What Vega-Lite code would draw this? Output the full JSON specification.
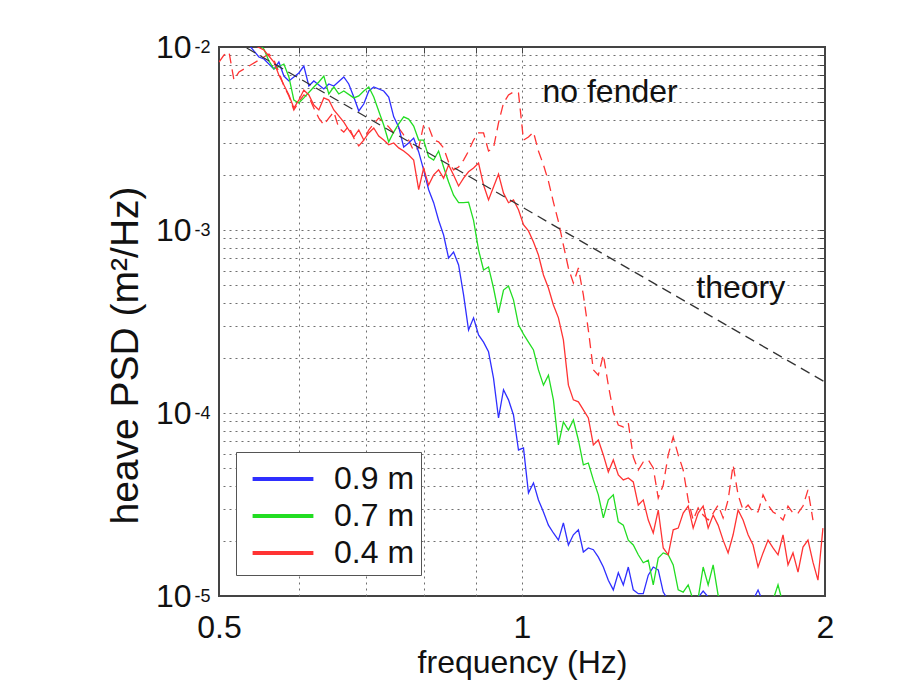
{
  "$schema": "https://vega.github.io/schema/vega-lite/v6.json",
  "width": 606,
  "height": 549,
  "autosize": {"type": "none"},
  "padding": {"left": 219, "top": 47, "right": 84, "bottom": 102},
  "background": "white",
  "config": {
    "font": "Liberation Sans",
    "view": {"stroke": "#444444", "strokeWidth": 2},
    "axis": {"labelColor": "#111111", "titleColor": "#111111", "labelFont": "Liberation Sans", "titleFont": "Liberation Sans", "titleFontWeight": "normal"}
  },
  "datasets": {
    "curves": [
      {"f":0.5355,"p":1.026e-2,"s":"0.9 m"},{"f":0.5478,"p":8.82e-3,"s":"0.9 m"},{"f":0.5541,"p":8.60e-3,"s":"0.9 m"},{"f":0.5669,"p":7.58e-3,"s":"0.9 m"},{"f":0.5734,"p":8.28e-3,"s":"0.9 m"},{"f":0.5800,"p":6.94e-3,"s":"0.9 m"},{"f":0.5867,"p":6.52e-3,"s":"0.9 m"},{"f":0.6002,"p":7.21e-3,"s":"0.9 m"},{"f":0.6071,"p":7.87e-3,"s":"0.9 m"},{"f":0.6141,"p":6.12e-3,"s":"0.9 m"},{"f":0.6211,"p":6.52e-3,"s":"0.9 m"},{"f":0.6355,"p":5.90e-3,"s":"0.9 m"},{"f":0.6428,"p":6.28e-3,"s":"0.9 m"},{"f":0.6502,"p":6.12e-3,"s":"0.9 m"},{"f":0.6652,"p":6.86e-3,"s":"0.9 m"},{"f":0.6728,"p":6.28e-3,"s":"0.9 m"},{"f":0.6806,"p":5.33e-3,"s":"0.9 m"},{"f":0.6884,"p":4.47e-3,"s":"0.9 m"},{"f":0.6963,"p":4.88e-3,"s":"0.9 m"},{"f":0.7043,"p":5.75e-3,"s":"0.9 m"},{"f":0.7124,"p":6.05e-3,"s":"0.9 m"},{"f":0.7288,"p":5.75e-3,"s":"0.9 m"},{"f":0.7372,"p":5.33e-3,"s":"0.9 m"},{"f":0.7457,"p":4.15e-3,"s":"0.9 m"},{"f":0.7542,"p":3.66e-3,"s":"0.9 m"},{"f":0.7629,"p":2.84e-3,"s":"0.9 m"},{"f":0.7716,"p":2.99e-3,"s":"0.9 m"},{"f":0.7805,"p":3.18e-3,"s":"0.9 m"},{"f":0.7895,"p":2.67e-3,"s":"0.9 m"},{"f":0.7985,"p":2.13e-3,"s":"0.9 m"},{"f":0.8077,"p":1.66e-3,"s":"0.9 m"},{"f":0.8170,"p":1.41e-3,"s":"0.9 m"},{"f":0.8263,"p":1.13e-3,"s":"0.9 m"},{"f":0.8358,"p":9.39e-4,"s":"0.9 m"},{"f":0.8454,"p":7.03e-4,"s":"0.9 m"},{"f":0.8551,"p":7.58e-4,"s":"0.9 m"},{"f":0.8650,"p":6.44e-4,"s":"0.9 m"},{"f":0.8749,"p":4.42e-4,"s":"0.9 m"},{"f":0.8849,"p":2.84e-4,"s":"0.9 m"},{"f":0.8951,"p":3.31e-4,"s":"0.9 m"},{"f":0.9054,"p":2.67e-4,"s":"0.9 m"},{"f":0.9158,"p":2.44e-4,"s":"0.9 m"},{"f":0.9263,"p":2.16e-4,"s":"0.9 m"},{"f":0.9369,"p":1.55e-4,"s":"0.9 m"},{"f":0.9477,"p":9.39e-5,"s":"0.9 m"},{"f":0.9586,"p":1.34e-4,"s":"0.9 m"},{"f":0.9696,"p":1.18e-4,"s":"0.9 m"},{"f":0.9807,"p":9.75e-5,"s":"0.9 m"},{"f":0.9920,"p":6.28e-5,"s":"0.9 m"},{"f":1.0034,"p":6.44e-5,"s":"0.9 m"},{"f":1.0149,"p":3.66e-5,"s":"0.9 m"},{"f":1.0266,"p":4.15e-5,"s":"0.9 m"},{"f":1.0383,"p":3.35e-5,"s":"0.9 m"},{"f":1.0503,"p":2.88e-5,"s":"0.9 m"},{"f":1.0623,"p":2.44e-5,"s":"0.9 m"},{"f":1.0745,"p":2.21e-5,"s":"0.9 m"},{"f":1.0869,"p":2.02e-5,"s":"0.9 m"},{"f":1.0993,"p":2.51e-5,"s":"0.9 m"},{"f":1.1120,"p":1.90e-5,"s":"0.9 m"},{"f":1.1247,"p":2.16e-5,"s":"0.9 m"},{"f":1.1377,"p":2.30e-5,"s":"0.9 m"},{"f":1.1507,"p":1.74e-5,"s":"0.9 m"},{"f":1.1639,"p":1.83e-5,"s":"0.9 m"},{"f":1.1773,"p":1.79e-5,"s":"0.9 m"},{"f":1.1908,"p":1.63e-5,"s":"0.9 m"},{"f":1.2045,"p":1.44e-5,"s":"0.9 m"},{"f":1.2183,"p":1.22e-5,"s":"0.9 m"},{"f":1.2323,"p":1.08e-5,"s":"0.9 m"},{"f":1.2465,"p":1.34e-5,"s":"0.9 m"},{"f":1.2608,"p":1.15e-5,"s":"0.9 m"},{"f":1.2753,"p":1.44e-5,"s":"0.9 m"},{"f":1.2899,"p":1.08e-5,"s":"0.9 m"},{"f":1.3047,"p":1.03e-5,"s":"0.9 m"},{"f":1.3197,"p":1.03e-5,"s":"0.9 m"},{"f":1.3349,"p":1.30e-5,"s":"0.9 m"},{"f":1.3502,"p":1.44e-5,"s":"0.9 m"},{"f":1.3657,"p":1.39e-5,"s":"0.9 m"},{"f":1.3814,"p":1.05e-5,"s":"0.9 m"},{"f":1.3972,"p":9.51e-6,"s":"0.9 m"},{"f":1.4133,"p":8.93e-6,"s":"0.9 m"},{"f":1.4459,"p":9.51e-6,"s":"0.9 m"},{"f":1.4793,"p":9.04e-6,"s":"0.9 m"},{"f":1.5135,"p":1.065e-5,"s":"0.9 m"},{"f":1.5485,"p":9.16e-6,"s":"0.9 m"},{"f":1.5842,"p":8.82e-6,"s":"0.9 m"},{"f":1.6208,"p":9.16e-6,"s":"0.9 m"},{"f":1.6582,"p":8.93e-6,"s":"0.9 m"},{"f":1.6966,"p":9.51e-6,"s":"0.9 m"},{"f":1.7160,"p":1.078e-5,"s":"0.9 m"},{"f":1.7357,"p":9.27e-6,"s":"0.9 m"},{"f":1.7758,"p":8.93e-6,"s":"0.9 m"},{"f":1.8588,"p":8.82e-6,"s":"0.9 m"},{"f":1.9906,"p":8.82e-6,"s":"0.9 m"},
      {"f":0.5478,"p":1.038e-2,"s":"0.7 m"},{"f":0.5541,"p":9.75e-3,"s":"0.7 m"},{"f":0.5605,"p":8.39e-3,"s":"0.7 m"},{"f":0.5669,"p":7.58e-3,"s":"0.7 m"},{"f":0.5800,"p":8.07e-3,"s":"0.7 m"},{"f":0.5867,"p":6.86e-3,"s":"0.7 m"},{"f":0.5934,"p":5.13e-3,"s":"0.7 m"},{"f":0.6002,"p":4.94e-3,"s":"0.7 m"},{"f":0.6071,"p":5.27e-3,"s":"0.7 m"},{"f":0.6211,"p":6.05e-3,"s":"0.7 m"},{"f":0.6283,"p":6.44e-3,"s":"0.7 m"},{"f":0.6355,"p":6.94e-3,"s":"0.7 m"},{"f":0.6428,"p":5.54e-3,"s":"0.7 m"},{"f":0.6502,"p":6.05e-3,"s":"0.7 m"},{"f":0.6576,"p":5.54e-3,"s":"0.7 m"},{"f":0.6652,"p":5.75e-3,"s":"0.7 m"},{"f":0.6806,"p":5.27e-3,"s":"0.7 m"},{"f":0.6884,"p":5.40e-3,"s":"0.7 m"},{"f":0.6963,"p":5.75e-3,"s":"0.7 m"},{"f":0.7043,"p":6.05e-3,"s":"0.7 m"},{"f":0.7124,"p":5.33e-3,"s":"0.7 m"},{"f":0.7205,"p":4.47e-3,"s":"0.7 m"},{"f":0.7288,"p":3.75e-3,"s":"0.7 m"},{"f":0.7372,"p":3.03e-3,"s":"0.7 m"},{"f":0.7457,"p":3.43e-3,"s":"0.7 m"},{"f":0.7542,"p":3.80e-3,"s":"0.7 m"},{"f":0.7629,"p":4.15e-3,"s":"0.7 m"},{"f":0.7716,"p":4.04e-3,"s":"0.7 m"},{"f":0.7805,"p":3.70e-3,"s":"0.7 m"},{"f":0.7895,"p":3.10e-3,"s":"0.7 m"},{"f":0.7985,"p":3.10e-3,"s":"0.7 m"},{"f":0.8077,"p":2.51e-3,"s":"0.7 m"},{"f":0.8170,"p":2.41e-3,"s":"0.7 m"},{"f":0.8263,"p":2.70e-3,"s":"0.7 m"},{"f":0.8358,"p":2.21e-3,"s":"0.7 m"},{"f":0.8454,"p":1.83e-3,"s":"0.7 m"},{"f":0.8551,"p":1.55e-3,"s":"0.7 m"},{"f":0.8650,"p":1.41e-3,"s":"0.7 m"},{"f":0.8749,"p":1.41e-3,"s":"0.7 m"},{"f":0.8849,"p":1.42e-3,"s":"0.7 m"},{"f":0.8951,"p":1.13e-3,"s":"0.7 m"},{"f":0.9054,"p":7.78e-4,"s":"0.7 m"},{"f":0.9158,"p":6.05e-4,"s":"0.7 m"},{"f":0.9263,"p":6.28e-4,"s":"0.7 m"},{"f":0.9369,"p":4.82e-4,"s":"0.7 m"},{"f":0.9477,"p":3.52e-4,"s":"0.7 m"},{"f":0.9586,"p":4.70e-4,"s":"0.7 m"},{"f":0.9696,"p":4.94e-4,"s":"0.7 m"},{"f":0.9807,"p":4.15e-4,"s":"0.7 m"},{"f":0.9920,"p":3.03e-4,"s":"0.7 m"},{"f":1.0034,"p":2.70e-4,"s":"0.7 m"},{"f":1.0149,"p":2.44e-4,"s":"0.7 m"},{"f":1.0266,"p":2.21e-4,"s":"0.7 m"},{"f":1.0383,"p":1.72e-4,"s":"0.7 m"},{"f":1.0503,"p":1.42e-4,"s":"0.7 m"},{"f":1.0623,"p":1.61e-4,"s":"0.7 m"},{"f":1.0745,"p":1.18e-4,"s":"0.7 m"},{"f":1.0869,"p":6.69e-5,"s":"0.7 m"},{"f":1.0993,"p":8.93e-5,"s":"0.7 m"},{"f":1.1120,"p":8.07e-5,"s":"0.7 m"},{"f":1.1247,"p":9.16e-5,"s":"0.7 m"},{"f":1.1377,"p":7.12e-5,"s":"0.7 m"},{"f":1.1507,"p":5.20e-5,"s":"0.7 m"},{"f":1.1639,"p":5.33e-5,"s":"0.7 m"},{"f":1.1773,"p":4.31e-5,"s":"0.7 m"},{"f":1.1908,"p":3.57e-5,"s":"0.7 m"},{"f":1.2045,"p":2.67e-5,"s":"0.7 m"},{"f":1.2183,"p":3.35e-5,"s":"0.7 m"},{"f":1.2323,"p":3.57e-5,"s":"0.7 m"},{"f":1.2465,"p":2.54e-5,"s":"0.7 m"},{"f":1.2608,"p":2.44e-5,"s":"0.7 m"},{"f":1.2753,"p":2.02e-5,"s":"0.7 m"},{"f":1.2899,"p":1.90e-5,"s":"0.7 m"},{"f":1.3047,"p":1.68e-5,"s":"0.7 m"},{"f":1.3197,"p":1.52e-5,"s":"0.7 m"},{"f":1.3349,"p":1.57e-5,"s":"0.7 m"},{"f":1.3502,"p":1.15e-5,"s":"0.7 m"},{"f":1.3657,"p":1.61e-5,"s":"0.7 m"},{"f":1.3814,"p":1.72e-5,"s":"0.7 m"},{"f":1.3972,"p":1.68e-5,"s":"0.7 m"},{"f":1.4133,"p":1.48e-5,"s":"0.7 m"},{"f":1.4295,"p":1.08e-5,"s":"0.7 m"},{"f":1.4459,"p":1.05e-5,"s":"0.7 m"},{"f":1.4625,"p":1.15e-5,"s":"0.7 m"},{"f":1.4793,"p":9.51e-6,"s":"0.7 m"},{"f":1.4963,"p":9.75e-6,"s":"0.7 m"},{"f":1.5135,"p":1.44e-5,"s":"0.7 m"},{"f":1.5309,"p":1.15e-5,"s":"0.7 m"},{"f":1.5485,"p":1.48e-5,"s":"0.7 m"},{"f":1.5662,"p":1.01e-5,"s":"0.7 m"},{"f":1.5842,"p":9.27e-6,"s":"0.7 m"},{"f":1.6208,"p":8.93e-6,"s":"0.7 m"},{"f":1.6773,"p":8.82e-6,"s":"0.7 m"},{"f":1.7758,"p":9.51e-6,"s":"0.7 m"},{"f":1.7962,"p":1.15e-5,"s":"0.7 m"},{"f":1.8169,"p":9.04e-6,"s":"0.7 m"},{"f":1.9906,"p":8.82e-6,"s":"0.7 m"},
      {"f":0.5294,"p":1.065e-2,"s":"0.4 m"},{"f":0.5416,"p":1.026e-2,"s":"0.4 m"},{"f":0.5541,"p":9.63e-3,"s":"0.4 m"},{"f":0.5669,"p":8.28e-3,"s":"0.4 m"},{"f":0.5734,"p":7.03e-3,"s":"0.4 m"},{"f":0.5800,"p":6.20e-3,"s":"0.4 m"},{"f":0.5867,"p":5.47e-3,"s":"0.4 m"},{"f":0.5934,"p":4.64e-3,"s":"0.4 m"},{"f":0.6002,"p":5.13e-3,"s":"0.4 m"},{"f":0.6071,"p":5.82e-3,"s":"0.4 m"},{"f":0.6141,"p":5.47e-3,"s":"0.4 m"},{"f":0.6211,"p":4.82e-3,"s":"0.4 m"},{"f":0.6283,"p":4.53e-3,"s":"0.4 m"},{"f":0.6355,"p":5.27e-3,"s":"0.4 m"},{"f":0.6428,"p":5.13e-3,"s":"0.4 m"},{"f":0.6502,"p":4.53e-3,"s":"0.4 m"},{"f":0.6576,"p":4.20e-3,"s":"0.4 m"},{"f":0.6652,"p":3.89e-3,"s":"0.4 m"},{"f":0.6728,"p":3.52e-3,"s":"0.4 m"},{"f":0.6806,"p":3.22e-3,"s":"0.4 m"},{"f":0.6884,"p":3.52e-3,"s":"0.4 m"},{"f":0.6963,"p":3.10e-3,"s":"0.4 m"},{"f":0.7043,"p":3.39e-3,"s":"0.4 m"},{"f":0.7124,"p":3.61e-3,"s":"0.4 m"},{"f":0.7205,"p":3.26e-3,"s":"0.4 m"},{"f":0.7288,"p":3.10e-3,"s":"0.4 m"},{"f":0.7372,"p":2.92e-3,"s":"0.4 m"},{"f":0.7457,"p":2.99e-3,"s":"0.4 m"},{"f":0.7542,"p":2.81e-3,"s":"0.4 m"},{"f":0.7629,"p":2.70e-3,"s":"0.4 m"},{"f":0.7716,"p":2.57e-3,"s":"0.4 m"},{"f":0.7805,"p":2.41e-3,"s":"0.4 m"},{"f":0.7895,"p":1.66e-3,"s":"0.4 m"},{"f":0.7985,"p":2.18e-3,"s":"0.4 m"},{"f":0.8077,"p":1.76e-3,"s":"0.4 m"},{"f":0.8170,"p":2.00e-3,"s":"0.4 m"},{"f":0.8263,"p":2.13e-3,"s":"0.4 m"},{"f":0.8358,"p":1.92e-3,"s":"0.4 m"},{"f":0.8454,"p":2.27e-3,"s":"0.4 m"},{"f":0.8551,"p":2.00e-3,"s":"0.4 m"},{"f":0.8650,"p":1.74e-3,"s":"0.4 m"},{"f":0.8749,"p":1.92e-3,"s":"0.4 m"},{"f":0.8849,"p":2.08e-3,"s":"0.4 m"},{"f":0.8951,"p":2.18e-3,"s":"0.4 m"},{"f":0.9054,"p":2.32e-3,"s":"0.4 m"},{"f":0.9158,"p":1.76e-3,"s":"0.4 m"},{"f":0.9263,"p":1.46e-3,"s":"0.4 m"},{"f":0.9369,"p":1.72e-3,"s":"0.4 m"},{"f":0.9477,"p":2.02e-3,"s":"0.4 m"},{"f":0.9586,"p":1.59e-3,"s":"0.4 m"},{"f":0.9696,"p":1.41e-3,"s":"0.4 m"},{"f":0.9807,"p":1.46e-3,"s":"0.4 m"},{"f":0.9920,"p":1.29e-3,"s":"0.4 m"},{"f":1.0034,"p":1.07e-3,"s":"0.4 m"},{"f":1.0149,"p":9.88e-4,"s":"0.4 m"},{"f":1.0266,"p":8.60e-4,"s":"0.4 m"},{"f":1.0383,"p":7.30e-4,"s":"0.4 m"},{"f":1.0503,"p":5.68e-4,"s":"0.4 m"},{"f":1.0623,"p":4.82e-4,"s":"0.4 m"},{"f":1.0745,"p":3.89e-4,"s":"0.4 m"},{"f":1.0869,"p":3.31e-4,"s":"0.4 m"},{"f":1.0993,"p":2.51e-4,"s":"0.4 m"},{"f":1.1120,"p":1.42e-4,"s":"0.4 m"},{"f":1.1247,"p":1.18e-4,"s":"0.4 m"},{"f":1.1377,"p":1.15e-4,"s":"0.4 m"},{"f":1.1507,"p":1.04e-4,"s":"0.4 m"},{"f":1.1639,"p":9.39e-5,"s":"0.4 m"},{"f":1.1773,"p":6.69e-5,"s":"0.4 m"},{"f":1.1908,"p":7.12e-5,"s":"0.4 m"},{"f":1.2045,"p":5.90e-5,"s":"0.4 m"},{"f":1.2183,"p":4.76e-5,"s":"0.4 m"},{"f":1.2323,"p":5.54e-5,"s":"0.4 m"},{"f":1.2465,"p":4.59e-5,"s":"0.4 m"},{"f":1.2608,"p":4.31e-5,"s":"0.4 m"},{"f":1.2753,"p":4.42e-5,"s":"0.4 m"},{"f":1.2899,"p":4.20e-5,"s":"0.4 m"},{"f":1.3047,"p":3.14e-5,"s":"0.4 m"},{"f":1.3197,"p":3.35e-5,"s":"0.4 m"},{"f":1.3349,"p":2.60e-5,"s":"0.4 m"},{"f":1.3502,"p":2.21e-5,"s":"0.4 m"},{"f":1.3657,"p":2.95e-5,"s":"0.4 m"},{"f":1.3814,"p":1.83e-5,"s":"0.4 m"},{"f":1.3972,"p":1.68e-5,"s":"0.4 m"},{"f":1.4133,"p":2.30e-5,"s":"0.4 m"},{"f":1.4295,"p":2.35e-5,"s":"0.4 m"},{"f":1.4459,"p":2.84e-5,"s":"0.4 m"},{"f":1.4625,"p":3.10e-5,"s":"0.4 m"},{"f":1.4793,"p":2.35e-5,"s":"0.4 m"},{"f":1.4963,"p":2.84e-5,"s":"0.4 m"},{"f":1.5135,"p":3.10e-5,"s":"0.4 m"},{"f":1.5309,"p":2.35e-5,"s":"0.4 m"},{"f":1.5485,"p":2.77e-5,"s":"0.4 m"},{"f":1.5662,"p":2.44e-5,"s":"0.4 m"},{"f":1.5842,"p":2.02e-5,"s":"0.4 m"},{"f":1.6024,"p":1.72e-5,"s":"0.4 m"},{"f":1.6208,"p":2.16e-5,"s":"0.4 m"},{"f":1.6394,"p":2.95e-5,"s":"0.4 m"},{"f":1.6582,"p":2.60e-5,"s":"0.4 m"},{"f":1.6773,"p":2.16e-5,"s":"0.4 m"},{"f":1.6966,"p":1.90e-5,"s":"0.4 m"},{"f":1.7160,"p":1.44e-5,"s":"0.4 m"},{"f":1.7357,"p":1.72e-5,"s":"0.4 m"},{"f":1.7557,"p":2.02e-5,"s":"0.4 m"},{"f":1.7758,"p":1.83e-5,"s":"0.4 m"},{"f":1.7962,"p":1.68e-5,"s":"0.4 m"},{"f":1.8169,"p":2.16e-5,"s":"0.4 m"},{"f":1.8377,"p":1.48e-5,"s":"0.4 m"},{"f":1.8588,"p":1.72e-5,"s":"0.4 m"},{"f":1.8802,"p":1.35e-5,"s":"0.4 m"},{"f":1.9018,"p":1.85e-5,"s":"0.4 m"},{"f":1.9236,"p":2.02e-5,"s":"0.4 m"},{"f":1.9457,"p":1.53e-5,"s":"0.4 m"},{"f":1.9680,"p":1.22e-5,"s":"0.4 m"},{"f":1.9906,"p":2.35e-5,"s":"0.4 m"}
    ],
    "nofender": [
      {"f":0.5,"p":8.28e-3},{"f":0.5057,"p":9.04e-3},{"f":0.5116,"p":9.39e-3},{"f":0.5174,"p":6.60e-3},{"f":0.5234,"p":7.30e-3},{"f":0.5355,"p":7.87e-3},{"f":0.5478,"p":8.49e-3},{"f":0.5605,"p":9.16e-3},{"f":0.5669,"p":8.49e-3},{"f":0.5734,"p":7.30e-3},{"f":0.5800,"p":6.12e-3},{"f":0.5867,"p":5.40e-3},{"f":0.5934,"p":4.53e-3},{"f":0.6002,"p":5.01e-3},{"f":0.6071,"p":5.47e-3},{"f":0.6141,"p":5.33e-3},{"f":0.6211,"p":4.64e-3},{"f":0.6283,"p":4.09e-3},{"f":0.6355,"p":3.75e-3},{"f":0.6428,"p":4.09e-3},{"f":0.6502,"p":4.42e-3},{"f":0.6576,"p":3.61e-3},{"f":0.6652,"p":3.43e-3},{"f":0.6728,"p":3.70e-3},{"f":0.6806,"p":3.18e-3},{"f":0.6884,"p":2.88e-3},{"f":0.6963,"p":3.10e-3},{"f":0.7043,"p":3.52e-3},{"f":0.7124,"p":3.80e-3},{"f":0.7205,"p":4.09e-3},{"f":0.7288,"p":3.89e-3},{"f":0.7372,"p":3.66e-3},{"f":0.7457,"p":3.39e-3},{"f":0.7542,"p":3.61e-3},{"f":0.7629,"p":3.31e-3},{"f":0.7716,"p":3.10e-3},{"f":0.7805,"p":2.70e-3},{"f":0.7895,"p":2.81e-3},{"f":0.7985,"p":3.75e-3},{"f":0.8077,"p":3.66e-3},{"f":0.8170,"p":3.10e-3},{"f":0.8263,"p":3.03e-3},{"f":0.8358,"p":2.81e-3},{"f":0.8454,"p":2.35e-3},{"f":0.8551,"p":2.13e-3},{"f":0.8650,"p":2.21e-3},{"f":0.8749,"p":2.41e-3},{"f":0.8849,"p":2.70e-3},{"f":0.8951,"p":3.10e-3},{"f":0.9054,"p":3.39e-3},{"f":0.9158,"p":3.39e-3},{"f":0.9263,"p":2.70e-3},{"f":0.9369,"p":2.81e-3},{"f":0.9477,"p":3.85e-3},{"f":0.9586,"p":4.94e-3},{"f":0.9696,"p":5.47e-3},{"f":0.9807,"p":5.68e-3},{"f":0.9920,"p":5.61e-3},{"f":1.0034,"p":3.10e-3},{"f":1.0149,"p":3.22e-3},{"f":1.0266,"p":3.43e-3},{"f":1.0383,"p":2.70e-3},{"f":1.0503,"p":2.27e-3},{"f":1.0623,"p":1.85e-3},{"f":1.0745,"p":1.42e-3},{"f":1.0869,"p":1.11e-3},{"f":1.0993,"p":8.28e-4},{"f":1.1120,"p":6.20e-4},{"f":1.1247,"p":5.13e-4},{"f":1.1377,"p":6.20e-4},{"f":1.1507,"p":4.42e-4},{"f":1.1639,"p":2.84e-4},{"f":1.1773,"p":1.72e-4},{"f":1.1908,"p":1.61e-4},{"f":1.2045,"p":2.08e-4},{"f":1.2183,"p":1.42e-4},{"f":1.2323,"p":1.01e-4},{"f":1.2465,"p":8.60e-5},{"f":1.2608,"p":8.39e-5},{"f":1.2753,"p":8.82e-5},{"f":1.2899,"p":5.75e-5},{"f":1.3047,"p":4.88e-5},{"f":1.3197,"p":5.40e-5},{"f":1.3349,"p":5.54e-5},{"f":1.3502,"p":5.01e-5},{"f":1.3657,"p":3.43e-5},{"f":1.3814,"p":4.04e-5},{"f":1.3972,"p":5.90e-5},{"f":1.4133,"p":7.39e-5},{"f":1.4295,"p":5.90e-5},{"f":1.4459,"p":4.88e-5},{"f":1.4625,"p":3.35e-5},{"f":1.4793,"p":2.60e-5},{"f":1.4963,"p":3.03e-5},{"f":1.5135,"p":2.77e-5},{"f":1.5309,"p":2.60e-5},{"f":1.5485,"p":2.84e-5},{"f":1.5662,"p":3.14e-5},{"f":1.5842,"p":2.67e-5},{"f":1.6024,"p":3.35e-5},{"f":1.6208,"p":5.20e-5},{"f":1.6394,"p":3.57e-5},{"f":1.6582,"p":2.95e-5},{"f":1.6773,"p":3.14e-5},{"f":1.6966,"p":2.88e-5},{"f":1.7160,"p":2.88e-5},{"f":1.7357,"p":3.57e-5},{"f":1.7557,"p":3.14e-5},{"f":1.7758,"p":2.88e-5},{"f":1.7962,"p":2.77e-5},{"f":1.8169,"p":2.60e-5},{"f":1.8377,"p":3.10e-5},{"f":1.8588,"p":2.84e-5},{"f":1.8802,"p":2.84e-5},{"f":1.9018,"p":3.10e-5},{"f":1.9236,"p":3.80e-5},{"f":1.9457,"p":2.60e-5}
    ],
    "theory": [{"f":0.5,"p":1.208e-2},{"f":2.0,"p":1.476e-4}],
    "notes": [{"f":1.048,"p":5.68e-3,"t":"no fender"},{"f":1.49,"p":4.82e-4,"t":"theory"}]
  },
  "resolve": {"axis": {"x": "independent", "y": "independent"}},
  "layer": [
    {
      "data": {"name": "nofender"},
      "mark": {"type": "line", "color": "#ff3333", "strokeWidth": 1.3, "strokeDash": [10, 6], "clip": true},
      "encoding": {
        "x": {"field": "f", "type": "quantitative", "scale": {"type": "log", "domain": [0.5, 2], "nice": false, "zero": false},
              "axis": {"orient": "top", "values": [0.6, 0.7, 0.8, 0.9, 1], "grid": true, "gridColor": "#6f6f6f", "gridDash": [2, 4], "gridWidth": 1, "labels": false, "ticks": true, "tickSize": -6, "tickColor": "#444444", "domain": false, "title": null}},
        "y": {"field": "p", "type": "quantitative", "scale": {"type": "log", "domain": [1e-5, 1e-2], "nice": false, "zero": false},
              "axis": {"orient": "right", "values": [2e-5,3e-5,4e-5,5e-5,6e-5,7e-5,8e-5,9e-5,1e-4,2e-4,3e-4,4e-4,5e-4,6e-4,7e-4,8e-4,9e-4,1e-3,2e-3,3e-3,4e-3,5e-3,6e-3,7e-3,8e-3,9e-3], "grid": true, "gridColor": "#6f6f6f", "gridDash": [2, 4], "gridWidth": 1, "labels": false, "ticks": true, "tickSize": -6, "tickColor": "#444444", "domain": false, "title": null}}
      }
    },
    {
      "data": {"name": "curves"},
      "mark": {"type": "line", "strokeWidth": 1.3, "clip": true},
      "encoding": {
        "x": {"field": "f", "type": "quantitative", "scale": {"type": "log", "domain": [0.5, 2], "nice": false, "zero": false},
              "axis": {"orient": "bottom", "values": [0.5, 1, 2], "format": "~g", "labelFlush": false, "grid": false, "ticks": false, "domain": false, "labelFontSize": 32, "labelPadding": 16, "title": "frequency (Hz)", "titleFontSize": 32, "titlePadding": 4}},
        "y": {"field": "p", "type": "quantitative", "scale": {"type": "log", "domain": [1e-5, 1e-2], "nice": false, "zero": false},
              "axis": {"orient": "left", "values": [1e-5, 1e-4, 1e-3, 1e-2], "labelExpr": "'10'", "labelFlush": false, "grid": false, "ticks": false, "domain": false, "labelFontSize": 32, "labelPadding": 28, "title": "heave PSD (m²/Hz)", "titleFontSize": 39, "titlePadding": 10, "titleY": 308}},
        "color": {"field": "s", "type": "nominal", "scale": {"domain": ["0.9 m", "0.7 m", "0.4 m"], "range": ["#2f2fff", "#22dd22", "#ff3333"]},
                  "legend": {"orient": "none", "legendX": 17, "legendY": 405, "title": null, "symbolType": "M-1.6,0H1.6", "symbolSize": 1444, "symbolOffset": 20, "symbolStrokeWidth": 4, "labelFontSize": 32, "labelOffset": 30, "rowPadding": 0, "padding": 6, "strokeColor": "#555555", "fillColor": "white", "labelColor": "#111111"}},
        "detail": {"field": "s"}
      }
    },
    {
      "data": {"name": "theory"},
      "mark": {"type": "line", "color": "#333333", "strokeWidth": 1.3, "strokeDash": [10, 6], "clip": true},
      "encoding": {
        "x": {"field": "f", "type": "quantitative", "axis": null},
        "y": {"field": "p", "type": "quantitative",
              "axis": {"orient": "left", "values": [1e-5, 1e-4, 1e-3, 1e-2], "labelExpr": "'-' + round(-log(datum.value) / LN10)", "labelFlush": false, "grid": false, "ticks": false, "domain": false, "labelFontSize": 18, "labelPadding": 9, "labelDy": -13, "title": null}}
      }
    },
    {
      "data": {"name": "notes"},
      "mark": {"type": "text", "align": "left", "baseline": "middle", "fontSize": 32, "font": "Liberation Sans", "color": "#111111"},
      "encoding": {
        "x": {"field": "f", "type": "quantitative", "axis": null},
        "y": {"field": "p", "type": "quantitative", "axis": null},
        "text": {"field": "t"}
      }
    }
  ]
}
